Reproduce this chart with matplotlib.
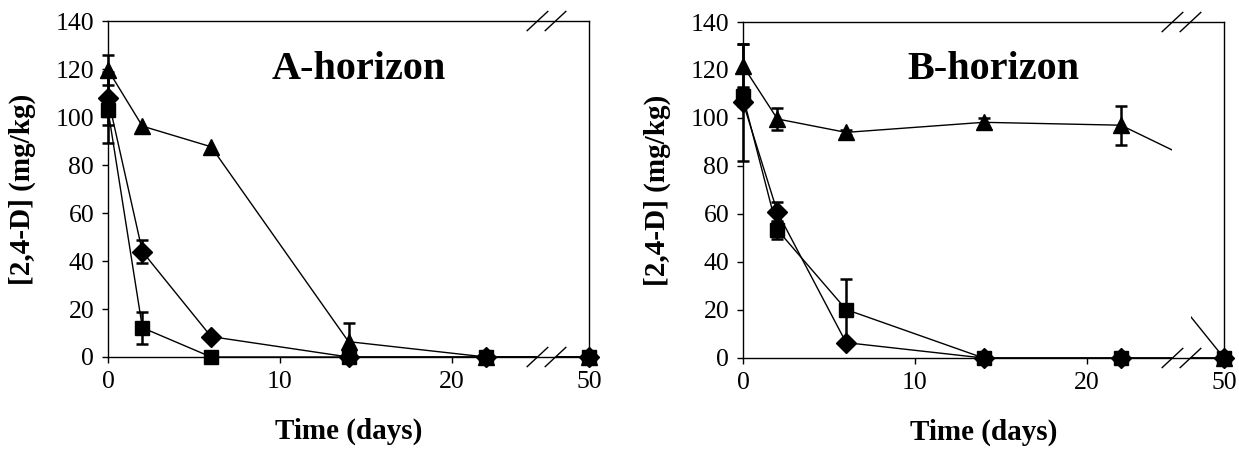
import matplotlib
matplotlib.use("Agg")
import matplotlib.pyplot as plt
import matplotlib.transforms as mtransforms
from matplotlib.patches import Rectangle

plt.rcParams['font.family'] = ['Liberation Serif', 'DejaVu Serif']

# sampling days (last one sits behind the axis break)
days = [0, 2, 6, 14, 22, 50]

# A-horizon
a_tri = [119.6, 96.2, 87.6, 6.4, 0, 0]
a_tri_err = [6.4, 0, 0, 7.9, 0, 0]
a_dia = [107.8, 43.9, 8.5, 0, 0, 0]
a_dia_err = [11.0, 4.9, 0, 0, 0, 0]
a_sq = [102.9, 12.2, 0, 0, 0, 0]
a_sq_err = [13.6, 6.6, 0, 0, 0, 0]

# B-horizon
b_tri = [121.7, 99.6, 94.0, 98.2, 97.0, 0]
b_tri_err = [9.0, 4.4, 1.0, 2.0, 8.1, 0]
b_dia = [106.5, 60.8, 6.4, 0, 0, 0]
b_dia_err = [24.5, 4.0, 0, 0, 0, 0]
b_sq = [109.0, 53.4, 20.2, 0, 0, 0]
b_sq_err = [4.0, 3.8, 12.9, 0, 0, 0]

x_ticks = [0, 10, 20, 28]
x_ticklabels = ['0', '10', '20', '50']

# axis break geometry (axis units)
GAP_L = 25.0     # end of the linear part
GAP_R = 26.05    # start of the squeezed part
X_END = 28.0     # where day 50 is drawn
SQUEEZE = (X_END - GAP_R) / 5.0


def draw_panel(ax, series, title):
    right = (mtransforms.Affine2D().translate(-50, 0).scale(SQUEEZE, 1)
             .translate(X_END, 0) + ax.transData)
    for y, err, mk, ms in series:
        l1, = ax.plot(days, y, color='k', lw=1.0, zorder=2)
        l1.set_clip_path(Rectangle((-1, -50), GAP_L + 1, 300, transform=ax.transData))
        l2, = ax.plot(days, y, color='k', lw=1.0, zorder=2, transform=right)
        l2.set_clip_path(Rectangle((GAP_R, -50), 5, 300, transform=ax.transData))

        near = [i for i, d in enumerate(days) if d < 40]
        far = [i for i, d in enumerate(days) if d >= 40]
        eb = [i for i in near if err[i] > 0]
        ax.errorbar([days[i] for i in eb], [y[i] for i in eb],
                    yerr=[err[i] for i in eb], fmt='none', ecolor='k',
                    elinewidth=1.8, capsize=4.5, capthick=1.8, zorder=3,
                    clip_on=False)
        ax.plot([days[i] for i in near], [y[i] for i in near], mk, color='k',
                ms=ms, zorder=4, clip_on=False)
        ax.plot([days[i] for i in far], [y[i] for i in far], mk, color='k',
                ms=ms, zorder=4, clip_on=False, transform=right)

    ax.set_xlim(0, X_END)
    ax.set_ylim(0, 140)
    ax.set_yticks(range(0, 141, 20))
    ax.set_xticks(x_ticks)
    ax.set_xticklabels(x_ticklabels)
    ax.tick_params(direction='out', length=4, width=1, labelsize=18.5, pad=6)
    for s in ax.spines.values():
        s.set_linewidth(1.0)
    ax.set_xlabel('Time (days)', fontsize=21, fontweight='bold')
    ax.set_ylabel('[2,4-D] (mg/kg)', fontsize=21, fontweight='bold')
    ax.xaxis.set_label_coords(0.5, -0.18)
    ax.yaxis.set_label_coords(-0.15, 0.5)
    ax.text(14.6, 120, title, fontsize=29, fontweight='bold', ha='center', va='center')

    # break marks on top and bottom spines
    for yy in (0, 140):
        for xc in (GAP_L, GAP_R):
            ax.plot([xc - 0.6, xc + 0.6], [yy - 4.0, yy + 4.0], color='k',
                    lw=1.0, clip_on=False, zorder=5)


fig = plt.figure(figsize=(12.39, 4.49), dpi=100)
ax1 = fig.add_axes([0.0872, 0.2049, 0.3882, 0.7483])
ax2 = fig.add_axes([0.5997, 0.2027, 0.3882, 0.7483])

draw_panel(ax1, [(a_tri, a_tri_err, '^', 11), (a_dia, a_dia_err, 'D', 10),
                 (a_sq, a_sq_err, 's', 10)], 'A-horizon')
draw_panel(ax2, [(b_tri, b_tri_err, '^', 11), (b_dia, b_dia_err, 'D', 10),
                 (b_sq, b_sq_err, 's', 10)], 'B-horizon')

fig.savefig('out.png', dpi=100)
